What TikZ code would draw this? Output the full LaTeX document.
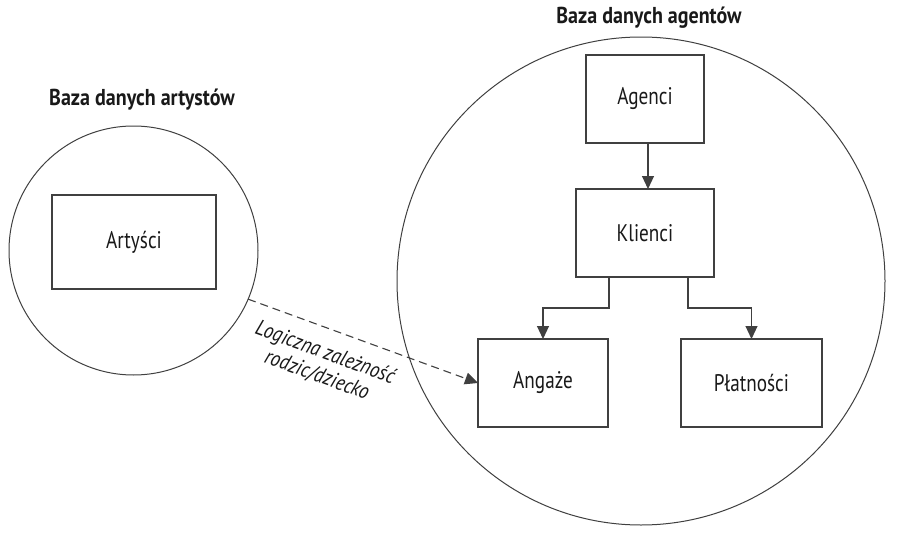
\documentclass[tikz,border=0pt]{standalone}
\usepackage{fontspec}
\setmainfont{PT Sans}[FakeStretch=0.8, BoldFeatures={FakeStretch=0.87}, ItalicFeatures={FakeStretch=0.86}]
\usetikzlibrary{arrows.meta}
\definecolor{ink}{gray}{0.25}
\definecolor{txt}{gray}{0.1}
\begin{document}
\begin{tikzpicture}[x=1pt,y=-1pt,
  db/.style={circle, draw=ink, line width=1pt, inner sep=0pt, outer sep=0pt},
  box/.style={rectangle, draw=ink, line width=1.1pt, inner sep=0pt, outer sep=0pt, text=txt, font=\fontsize{24}{26}\selectfont},
  ttl/.style={text=txt, font=\fontsize{23}{25}\selectfont\bfseries},
  lbl/.style={text=txt, font=\fontsize{22}{24}\selectfont\itshape, align=center, rotate=-20, inner sep=0pt},
  arr/.style={-{Triangle[length=13pt,width=12pt]}, draw=ink, line width=1.1pt},
]
\useasboundingbox (0,0) rectangle (906,554);
\fill[white] (0,0) rectangle (906,554);
% databases
\node[db, minimum size=249] (dbA) at (133.5,250.5) {};
\node[db, minimum size=488] (dbB) at (641,281) {};
\node[ttl] (tA) at (142,100) {Baza danych artystów};
\node[ttl] (tB) at (649,18) {Baza danych agentów};
% tables
\node[box, minimum width=164, minimum height=94] (art) at (134,242) {Artyści};
\node[box, minimum width=118, minimum height=88] (ag) at (645,99) {Agenci};
\node[box, minimum width=138, minimum height=88] (kl) at (645,233) {Klienci};
\node[box, minimum width=130, minimum height=88] (an) at (543,383) {Angaże};
\node[box, minimum width=141, minimum height=88] (pl) at (751.5,383) {Płatności};
% connectors
\draw[arr] ([xshift=3pt]ag.south) -- ([xshift=3pt]kl.north);
\draw[arr] ([xshift=-36pt]kl.south) -- ++(0,31) -| (an.north);
\draw[arr] ([xshift=43pt]kl.south) -- ++(0,31) -| (pl.north);
\draw[arr, dash pattern=on 8pt off 5pt] (dbA.-23) -- (an.west);
\node[lbl] (rel) at (321,364) {Logiczna zależność\\rodzic/dziecko};
\end{tikzpicture}
\end{document}
